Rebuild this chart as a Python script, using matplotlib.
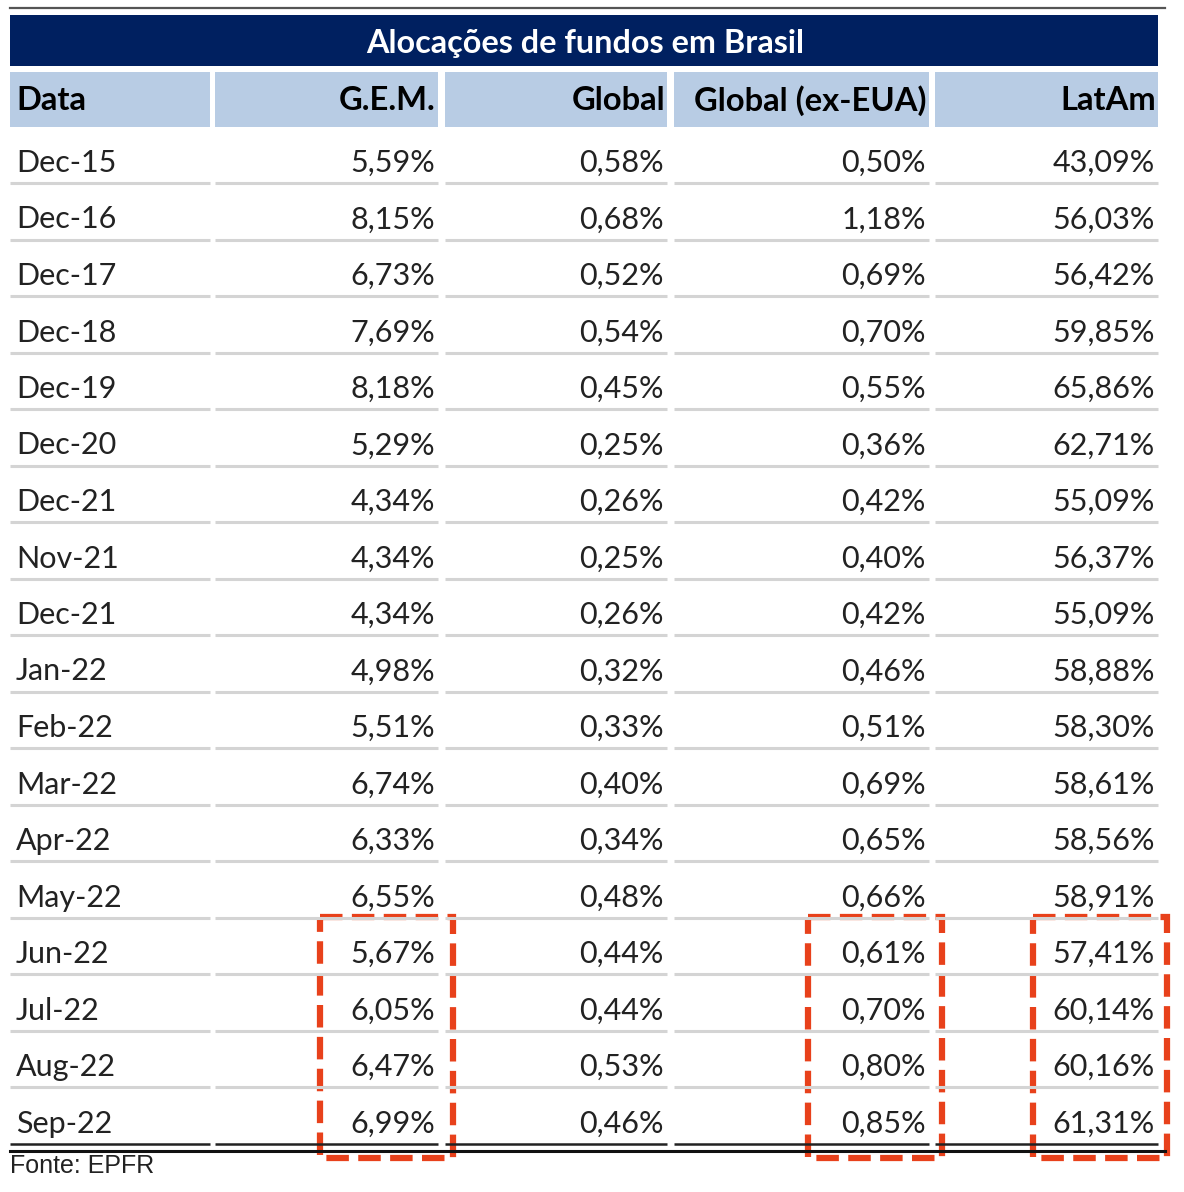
import matplotlib.pyplot as plt
from matplotlib.patches import Rectangle

# dados da tabela
datas = ["Dec-15", "Dec-16", "Dec-17", "Dec-18", "Dec-19", "Dec-20", "Dec-21",
         "Nov-21", "Dec-21", "Jan-22", "Feb-22", "Mar-22", "Apr-22", "May-22",
         "Jun-22", "Jul-22", "Aug-22", "Sep-22"]
gem = ["5,59%", "8,15%", "6,73%", "7,69%", "8,18%", "5,29%", "4,34%", "4,34%",
       "4,34%", "4,98%", "5,51%", "6,74%", "6,33%", "6,55%", "5,67%", "6,05%",
       "6,47%", "6,99%"]
glob = ["0,58%", "0,68%", "0,52%", "0,54%", "0,45%", "0,25%", "0,26%", "0,25%",
        "0,26%", "0,32%", "0,33%", "0,40%", "0,34%", "0,48%", "0,44%", "0,44%",
        "0,53%", "0,46%"]
glob_ex = ["0,50%", "1,18%", "0,69%", "0,70%", "0,55%", "0,36%", "0,42%", "0,40%",
           "0,42%", "0,46%", "0,51%", "0,69%", "0,65%", "0,66%", "0,61%", "0,70%",
           "0,80%", "0,85%"]
latam = ["43,09%", "56,03%", "56,42%", "59,85%", "65,86%", "62,71%", "55,09%",
         "56,37%", "55,09%", "58,88%", "58,30%", "58,61%", "58,56%", "58,91%",
         "57,41%", "60,14%", "60,16%", "61,31%"]
cabecalho = ["Data", "G.E.M.", "Global", "Global (ex-EUA)", "LatAm"]
titulo = "Alocações de fundos em Brasil"
fonte = "Fonte: EPFR"
destaque_inicio = 14  # Jun-22 em diante

W, H = 1184, 1192
fig = plt.figure(figsize=(W / 100, H / 100), dpi=100)
ax = fig.add_axes([0, 0, 1, 1])
ax.set_xlim(0, W)
ax.set_ylim(H, 0)
ax.axis("off")

FONT = "Lato"
navy = "#002060"
azul = "#b8cce4"
vermelho = "#e8411b"

cols = [(10, 210), (215, 438), (445, 667), (674, 929), (935, 1158)]

# linha superior
ax.plot([10, 1165], [8, 8], color="#555555", lw=1.6)

# barra do titulo
ax.add_patch(Rectangle((10, 15), 1148, 51, color=navy, lw=0))
ax.text(585, 44, titulo, color="white", fontsize=23.3, fontweight="bold",
        family=FONT, ha="center", va="center")

# cabecalho
for i, (x0, x1) in enumerate(cols):
    ax.add_patch(Rectangle((x0, 72), x1 - x0, 55, color=azul, lw=0))
    if i == 0:
        ax.text(x0 + 6, 101, cabecalho[i], fontsize=23.6, fontweight="bold",
                family=FONT, ha="left", va="center")
    else:
        ax.text(x1 - 2, 101, cabecalho[i], fontsize=23.6, fontweight="bold",
                family=FONT, ha="right", va="center")

# linhas de dados
passo = 56.5
y0 = 161
colunas = [gem, glob, glob_ex, latam]
n = len(datas)
for r in range(n):
    yc = y0 + r * passo
    ax.text(cols[0][0] + 6, yc + 2, datas[r], fontsize=22, family=FONT,
            color="#222222", ha="left", va="center")
    for c, vals in enumerate(colunas):
        ax.text(cols[c + 1][1] - 3, yc + 2, vals[r], fontsize=22, family=FONT,
                color="#222222", ha="right", va="center")
    ysep = yc + 22
    for (x0, x1) in cols:
        if r < n - 1:
            ax.plot([x0, x1], [ysep, ysep], color="#d4d4d4", lw=2.2,
                    solid_capstyle="butt")
        else:
            ax.plot([x0, x1], [ysep, ysep], color="#222222", lw=1.8,
                    solid_capstyle="butt")
    if r == n - 1:
        ax.plot([10, 1165], [ysep + 7, ysep + 7], color="#111111", lw=2.2)

# fonte
ax.text(10, 1166, fonte, fontsize=18, family="Liberation Sans",
        ha="left", va="center", color="#222222")

# caixas tracejadas de destaque
ytop = y0 + destaque_inicio * passo - 35
ybot = 1158
for (x0, x1) in [(320, 453), (808, 942), (1033, 1167)]:
    ax.add_patch(Rectangle((x0, ytop), x1 - x0, ybot - ytop, fill=False,
                           edgecolor=vermelho, lw=4.5, ls=(0, (3.6, 1.5))))

fig.savefig("out.png", dpi=100)
